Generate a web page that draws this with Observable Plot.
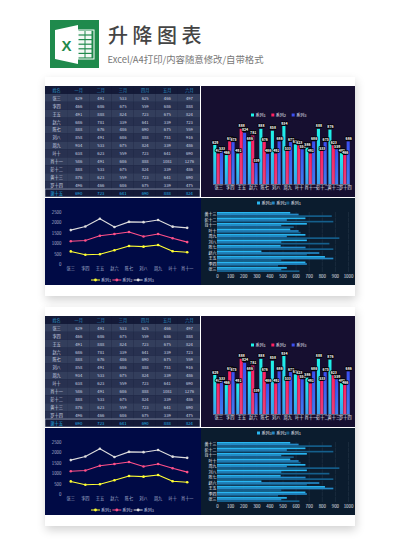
<!DOCTYPE html>
<html><head><meta charset="utf-8">
<script src="https://cdn.jsdelivr.net/npm/d3@7"></script>
<script src="https://cdn.jsdelivr.net/npm/@observablehq/plot@0.6"></script>
<style>
html,body{margin:0;padding:0;background:#fff;width:400px;height:549px;overflow:hidden;font-family:"Noto Sans CJK SC","Noto Sans",sans-serif}
#page{position:relative;width:400px;height:549px}
.abs{position:absolute}
.abs svg,svg.abs{display:block}
.card{position:absolute;left:45px;width:310px;background:#fff;box-shadow:1px 4px 9px rgba(0,0,0,.18)}
</style></head><body><div id="page"></div>
<script>
const names = ["张三","李四","王五","赵六","陈七","刘八","周九","叶十","肖十一","彭十二","黄十三","罗十四","谢十五"];
const months = ["一月","二月","三月","四月","五月","六月"];
const headerName = "姓名";
const col1 = [629,466,491,686,888,858,934,638,586,888,876,496,690];
const col2 = [491,686,888,781,676,491,533,623,491,533,623,466,723];
const col3 = [533,675,824,339,486,686,675,559,686,675,559,686,641];
const col4 = [625,559,723,641,690,888,824,723,888,824,723,675,690];
const col5 = [466,686,675,339,675,781,339,641,1081,339,641,339,888];
const col6 = [497,888,824,723,559,916,486,690,1276,486,690,475,824];
const columns = [col1,col2,col3,col4,col5,col6];
const seriesNames = ["系列1","系列2","系列3"];
const groupedCount = 12, lineCount = 9, hbarCount = 11;
const title = "升降图表";
const subtitle = "Excel/A4打印/内容随意修改/自带格式";

const page = document.getElementById("page");
const FONT = '"Noto Sans CJK SC",sans-serif';
function place(el,x,y){el.classList.add("abs");el.style.left=x+"px";el.style.top=y+"px";page.appendChild(el);}

function long(n){
  const out=[];
  seriesNames.forEach((s,k)=>{ for(let i=0;i<n;i++) out.push({name:names[i],series:s,value:columns[k][i]}); });
  return out;
}
function gradient(id,stops){
  return ()=>{
    const s=d3.create("svg:defs");
    const g=s.append("linearGradient").attr("id",id).attr("x1",0).attr("y1",0).attr("x2",0).attr("y2",1);
    stops.forEach(([o,c])=>g.append("stop").attr("offset",o).attr("stop-color",c));
    return s.node();
  };
}

function tableChart(){
  const rowKeys=[headerName,...names];
  const colKeys=[headerName,...months];
  const cells=[];
  rowKeys.forEach((r,i)=>colKeys.forEach((c,j)=>{
    const t = i===0 ? c : j===0 ? r : String(columns[j-1][i-1]);
    cells.push({r,c,i,t});
  }));
  const last=rowKeys[rowKeys.length-1];
  const dark=d=>d.i===0||d.r===last;
  return Plot.plot({
    width:155,height:111,margin:0,
    style:{background:"#141a38",fontFamily:FONT},
    x:{type:"band",domain:colKeys,axis:null,padding:0,round:false},
    y:{type:"band",domain:rowKeys,axis:null,padding:0,round:false},
    marks:[
      Plot.cell(cells,{x:"c",y:"r",fill:d=>dark(d)?"#141a38":d.i%2?"#333e5c":"#283150"}),
      Plot.cell([last],{y:d=>d,stroke:"#aab4c8",strokeWidth:.7,fill:"none"}),
      Plot.text(cells,{x:"c",y:"r",text:"t",fontSize:4.2,fill:d=>d.i===0?"#2a94c8":d.r===last?"#22b4e8":"#d0d6e4",fontWeight:d=>d.r===last?"bold":"normal"})
    ]
  });
}

function barChart(id){
  const data=long(groupedCount);
  const dom=names.slice(0,groupedCount);
  return Plot.plot({
    width:154,height:111,marginTop:39,marginBottom:13,marginLeft:12,marginRight:5,
    style:{background:"#160f30",fontFamily:FONT},
    fx:{domain:dom,padding:.1,label:null,axis:null,round:false},
    x:{domain:seriesNames,axis:null,padding:.08,round:false},
    y:{domain:[0,950],axis:null},
    color:{domain:seriesNames,range:[`url(#c1${id})`,`url(#c2${id})`,`url(#c3${id})`]},
    marks:[
      gradient("c1"+id,[[0,"#1df5e8"],[1,"#3a9df0"]]),
      gradient("c2"+id,[[0,"#ff2060"],[1,"#e8407a"]]),
      gradient("c3"+id,[[0,"#3a4ef0"],[1,"#3f7cf0"]]),
      Plot.axisFx({anchor:"bottom",fontSize:4.2,tickSize:0,tickPadding:2,label:null,fill:"#eceef6"}),
      Plot.barY(data,{fx:"name",x:"series",y:"value",fill:"series"}),
      Plot.ruleY([0],{stroke:"#8a90a8",strokeWidth:.7}),
      Plot.text(data,{fx:"name",x:"series",y:"value",text:"value",dy:-3,fontSize:3.5,fill:"#fff",fontWeight:"bold",stroke:"#000",strokeWidth:1.5})
    ]
  });
}

function lineChart(){
  const data=long(lineCount);
  const dom=names.slice(0,lineCount);
  return Plot.plot({
    width:156,height:87,marginTop:14,marginBottom:21,marginLeft:18,marginRight:7,
    style:{background:"#000a45",fontFamily:FONT},
    x:{domain:dom,type:"point",padding:.5,axis:null,round:false},
    y:{domain:[0,2500],axis:null},
    color:{domain:seriesNames,range:["#ffff33","#ff5088","#dcdcdc"]},
    marks:[
      Plot.axisX({domain:dom,fontSize:4.2,tickSize:0,tickPadding:3,label:null,fill:"#aab4cf"}),
      Plot.axisY({ticks:[0,500,1000,1500,2000,2500],tickFormat:d=>String(d),fontSize:4.4,tickSize:0,tickPadding:2,label:null,fill:"#aab4cf"}),
      Plot.lineY(data,Plot.stackY2({x:"name",y:"value",z:"series",stroke:"series",order:null,strokeWidth:1.1})),
      Plot.dot(data,Plot.stackY2({x:"name",y:"value",z:"series",fill:"series",order:null,r:1.3}))
    ]
  });
}

function hbarChart(){
  const data=long(hbarCount);
  const dom=names.slice(0,hbarCount).reverse();
  return Plot.plot({
    width:154,height:87,marginTop:14,marginBottom:13,marginLeft:16,marginRight:7,
    style:{background:"#0b1c2e",fontFamily:FONT},
    x:{domain:[0,1000],axis:null},
    fy:{domain:dom,padding:.1,label:null,axis:null,round:false},
    y:{domain:["系列3","系列2","系列1"],axis:null,padding:0,round:false},
    color:{domain:seriesNames,range:["#155f8c","#2389c8","#29b6f2"]},
    marks:[
      Plot.gridX({ticks:d3.range(0,1001,100),stroke:"#4a6070",strokeOpacity:.45,strokeWidth:.5}),
      Plot.axisX({ticks:d3.range(0,1001,100),tickFormat:d=>String(d),fontSize:4.4,tickSize:0,tickPadding:2,label:null,fill:"#e0e4ec",anchor:"bottom"}),
      Plot.axisFy({anchor:"left",fontSize:4,tickSize:0,tickPadding:1,label:null,fill:"#eceef6"}),
      Plot.barX(data,{fy:"name",y:"series",x:"value",fill:"series"})
    ]
  });
}

function legend(items,x,y,w,kind,textColor){
  const step=w/items.length;
  const s=d3.create("svg").attr("width",w).attr("height",8).style("overflow","visible");
  items.forEach((it,i)=>{
    const g=s.append("g").attr("transform",`translate(${i*step},4)`);
    if(kind==="line"){
      g.append("line").attr("x1",0).attr("x2",9).attr("stroke",it.c).attr("stroke-width",1);
      g.append("circle").attr("cx",4.5).attr("r",1.4).attr("fill",it.c);
    } else g.append("rect").attr("y",-1.5).attr("width",3).attr("height",3).attr("fill",it.c);
    g.append("text").attr("x",kind==="line"?10:4.5).attr("y",1.5).attr("font-size",4).attr("fill",textColor).attr("font-family",FONT).text(it.n);
  });
  place(s.node(),x,y);
}

function dashboard(top,id){
  const card=document.createElement("div");
  card.className="card";card.style.top=(top-9)+"px";card.style.height="219px";
  page.appendChild(card);
  place(tableChart(),45,top);
  place(barChart(id),201,top);
  place(lineChart(),45,top+112);
  place(hbarChart(),201,top+112);
  legend([{n:"系列1",c:"#1df5e8"},{n:"系列2",c:"#ff2060"},{n:"系列3",c:"#3a4ef0"}],251,top+25,61,"rect","#e4e6f0");
  legend([{n:"系列1",c:"#ffff33"},{n:"系列2",c:"#ff5088"},{n:"系列3",c:"#dcdcdc"}],91,top+190,64,"line","#c4cbe0");
  legend([{n:"系列3",c:"#29b6f2"},{n:"系列2",c:"#2389c8"},{n:"系列1",c:"#155f8c"}],257,top+113,44,"rect","#e4e6f0");
}

// header
const icon=d3.create("svg").attr("width",49).attr("height",48);
icon.append("rect").attr("width",49).attr("height",48).attr("fill","#1f8a4c");
icon.append("path").attr("d","M5 10 L28 5 L28 44 L5 39 Z").attr("fill","#fff");
for(let r=0;r<6;r++)for(let c=0;c<2;c++)icon.append("rect").attr("x",28+c*7.5).attr("y",11+r*4.6).attr("width",c?6:6.5).attr("height",3.4).attr("fill","#fff").attr("fill-opacity",.95);
icon.append("rect").attr("x",28).attr("y",10).attr("width",16).attr("height",29).attr("fill","none").attr("stroke","#fff").attr("stroke-width",1);
icon.append("text").attr("x",16.5).attr("y",31).attr("text-anchor","middle").attr("font-size",15).attr("font-weight","bold").attr("fill","#1f8a4c").attr("font-family","Liberation Sans").text("X");
place(icon.node(),50,20);

const h=document.createElement("div");
h.textContent=title;
h.style.cssText=`font-family:"Noto Sans CJK SC";font-size:20px;letter-spacing:4.5px;color:#444;line-height:26px;white-space:nowrap;font-weight:500`;
place(h,108,22);
const sub=document.createElement("div");
sub.textContent=subtitle;
sub.style.cssText=`font-family:"Noto Sans CJK SC";font-size:9.4px;color:#777;line-height:14px;white-space:nowrap`;
place(sub,107.5,52);

dashboard(86,"a");
dashboard(316,"b");
</script></body></html>
